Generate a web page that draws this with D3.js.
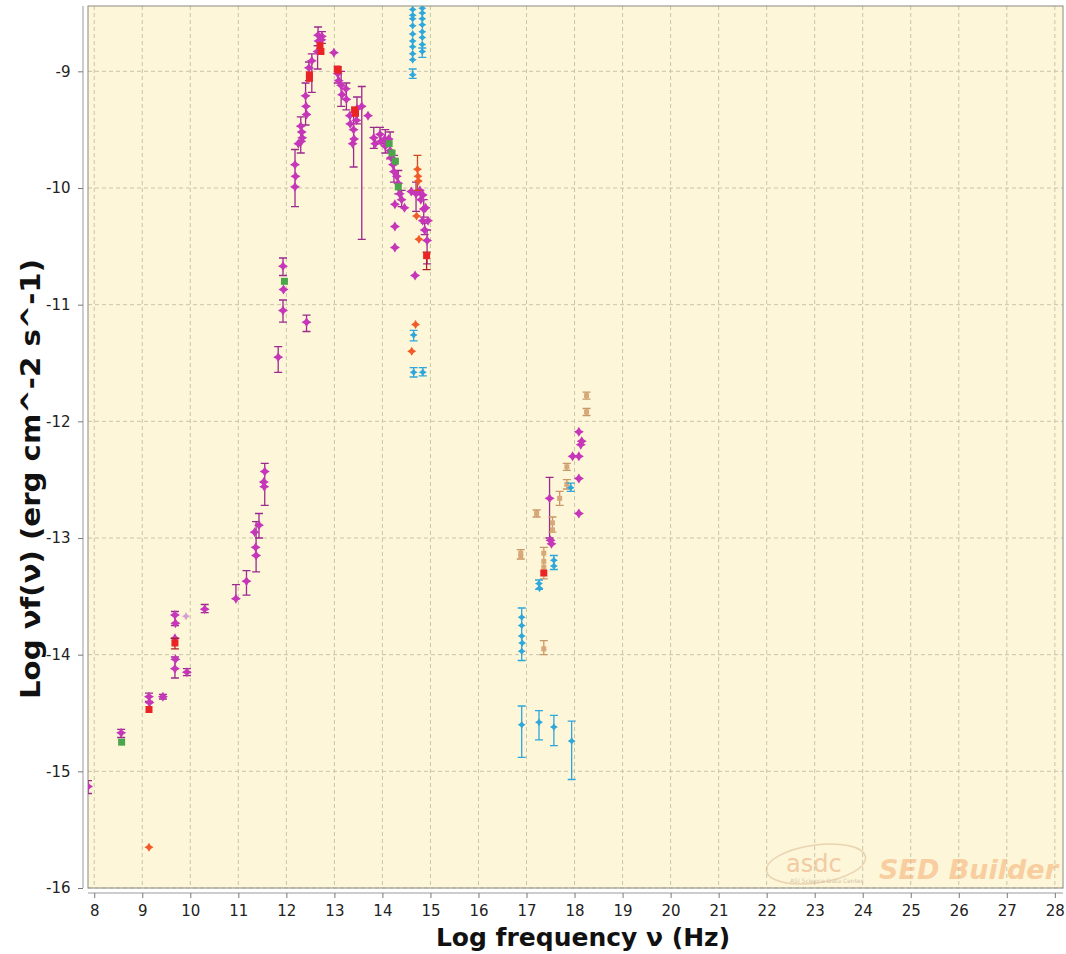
<!DOCTYPE html>
<html>
<head>
<meta charset="utf-8">
<script src="https://cdn.jsdelivr.net/npm/d3@7"></script>
<style>
  body { margin: 0; background: #fff; }
  svg { display: block; font-family: "DejaVu Sans", sans-serif; }
</style>
</head>
<body>
<svg id="chart" width="1066" height="954"></svg>
<script>
// each point: [logNu, logNuFnu, errLow, errHigh]
var magentaPts = [
  [7.87, -15.13, -15.19, -15.08], [8.56, -14.67, -14.71, -14.64],
  [9.14, -14.36, -14.40, -14.33], [9.15, -14.41], [9.43, -14.36, -14.38, -14.34],
  [9.68, -13.66, -13.75, -13.63], [9.69, -13.73], [9.68, -13.86],
  [9.69, -14.04], [9.68, -14.12, -14.2, -14.02], [9.93, -14.15, -14.18, -14.12],
  [10.3, -13.61, -13.64, -13.57], [10.95, -13.52, -13.52, -13.40],
  [11.17, -13.37, -13.49, -13.28], [11.34, -12.95], [11.36, -13.08],
  [11.37, -13.15, -13.29, -12.86], [11.43, -12.89, -13.0, -12.79],
  [11.55, -12.43, -12.72, -12.36], [11.53, -12.52], [11.54, -12.56],
  [11.83, -11.45, -11.58, -11.36], [11.93, -10.67, -10.75, -10.60],
  [11.94, -10.87], [11.93, -11.05, -11.15, -10.96], [12.42, -11.15, -11.23, -11.09],
  [12.18, -9.80, -10.16, -9.67], [12.19, -9.90], [12.18, -9.99], [12.25, -9.62],
  [12.30, -9.47, -9.70, -9.39], [12.32, -9.52], [12.33, -9.57], [12.31, -9.60],
  [12.40, -9.21, -9.46, -9.10], [12.41, -9.30], [12.42, -9.37],
  [12.47, -8.97, -9.08, -8.92], [12.53, -8.91, -9.18, -8.85],
  [12.66, -8.69, -8.78, -8.62], [12.67, -8.74], [12.65, -8.83, -8.98, -8.78],
  [12.74, -8.70, -8.76, -8.66], [12.73, -8.73], [12.99, -8.84],
  [13.07, -9.02, -9.10, -8.96], [13.09, -9.08], [13.14, -9.12, -9.30, -9.00],
  [13.16, -9.20], [13.24, -9.15], [13.25, -9.24, -9.33, -9.10],
  [13.32, -9.38], [13.33, -9.45], [13.40, -9.50, -9.82, -9.35], [13.41, -9.58],
  [13.38, -9.62], [13.47, -9.32, -9.45, -9.22], [13.46, -9.42],
  [13.57, -9.30, -10.44, -9.13], [13.70, -9.38], [13.82, -9.57, -9.66, -9.48],
  [13.85, -9.62], [13.95, -9.54, -9.62, -9.48], [13.97, -9.60], [14.05, -9.58],
  [14.06, -9.64, -9.70, -9.50], [14.13, -9.58], [14.16, -9.68, -9.75, -9.52],
  [14.18, -9.74], [14.22, -9.80], [14.24, -9.86, -9.95, -9.72],
  [14.26, -10.14], [14.26, -10.33], [14.26, -10.51], [14.30, -9.90],
  [14.33, -9.96, -10.05, -9.85], [14.36, -10.05], [14.40, -10.10, -10.16, -10.02],
  [14.46, -10.17], [14.60, -10.03], [14.68, -10.75], [14.70, -10.05, -10.20, -9.95],
  [14.78, -10.02], [14.80, -10.10], [14.84, -10.06], [14.86, -10.18, -10.25, -10.10],
  [14.84, -10.28], [14.90, -10.17], [14.88, -10.36, -10.40, -10.30],
  [14.93, -10.45, -10.65, -10.36], [14.95, -10.28],
  [17.48, -12.66, -13.0, -12.48], [17.50, -13.02], [17.52, -13.05],
  [17.96, -12.30], [18.09, -12.09], [18.15, -12.17], [18.13, -12.20],
  [18.09, -12.30], [18.09, -12.49], [18.09, -12.79]
];
var redPts = [
  [12.48, -9.03], [12.48, -9.06], [12.70, -8.78], [12.72, -8.83],
  [13.06, -8.98], [13.08, -8.99], [13.42, -9.33], [13.44, -9.36],
  [9.68, -13.90, -13.95, -13.86], [9.14, -14.47],
  [14.92, -10.58, -10.70, -10.55], [17.36, -13.30]
];
var orangePts = [
  [14.73, -9.84, -10.02, -9.72], [14.74, -9.90], [14.75, -9.94],
  [14.71, -10.24], [14.76, -10.44], [14.69, -11.17], [14.61, -11.40], [9.14, -15.65]
];
var greenPts = [
  [14.14, -9.62], [14.20, -9.70], [14.27, -9.77], [14.33, -9.99],
  [11.96, -10.80], [8.57, -14.75]
];
var cyanPts = [
  [14.63, -8.47], [14.63, -8.52], [14.63, -8.55], [14.63, -8.61], [14.63, -8.68],
  [14.63, -8.74], [14.63, -8.79], [14.63, -8.85], [14.63, -8.90], [14.63, -9.03, -9.06, -8.98],
  [14.83, -8.46], [14.83, -8.50], [14.83, -8.55], [14.83, -8.60], [14.83, -8.66],
  [14.83, -8.71], [14.83, -8.77], [14.83, -8.83, -8.88, -8.80],
  [14.65, -11.26, -11.31, -11.22], [14.65, -11.58, -11.62, -11.54],
  [14.84, -11.58, -11.61, -11.54], [17.92, -12.57, -12.60, -12.53],
  [17.57, -13.19, -13.27, -13.15], [17.57, -13.24], [17.26, -13.39, -13.44, -13.36],
  [17.27, -13.43], [16.90, -13.68, -14.05, -13.60], [16.90, -13.75], [16.90, -13.84],
  [16.91, -13.90], [16.90, -13.97], [16.90, -14.60, -14.88, -14.44],
  [17.26, -14.58, -14.73, -14.48], [17.57, -14.62, -14.78, -14.52],
  [17.94, -14.74, -15.07, -14.57]
];
var tanPts = [
  [18.25, -11.78, -11.81, -11.75], [18.25, -11.92, -11.95, -11.89],
  [17.84, -12.39, -12.42, -12.36], [17.84, -12.54, -12.58, -12.50],
  [17.69, -12.66, -12.72, -12.60], [17.21, -12.79, -12.82, -12.76],
  [17.54, -12.87, -12.95, -12.82], [17.54, -12.93], [16.88, -13.13, -13.18, -13.10],
  [16.88, -13.16], [17.36, -13.13, -13.35, -13.08], [17.36, -13.20], [17.36, -13.25],
  [17.36, -13.95, -14.00, -13.88]
];
var pinkPts = [[9.91, -13.67]];

var xTicks = d3.range(8, 29);
var yTicks = d3.range(-16, -8);

// 4-point star marker, size = outer radius in px
var symbolStar = {
  draw: function (ctx, r) {
    var k = r * 0.38;
    ctx.moveTo(0, -r);
    ctx.lineTo(k, -k); ctx.lineTo(r, 0); ctx.lineTo(k, k);
    ctx.lineTo(0, r); ctx.lineTo(-k, k); ctx.lineTo(-r, 0); ctx.lineTo(-k, -k);
    ctx.closePath();
  }
};
var symbolBox = {
  draw: function (ctx, r) { ctx.rect(-r, -r, 2 * r, 2 * r); }
};

function drawChart() {
  var svg = d3.select("#chart");
  var pl = 88, pr = 1063, pt = 6, pb = 888;

  var x = d3.scaleLinear().domain([7.87, 28.17]).range([pl, pr]);
  var y = d3.scaleLinear().domain([-16, -8.44]).range([pb, pt]);

  svg.append("defs").append("clipPath").attr("id", "clip")
    .append("rect").attr("x", pl).attr("y", pt)
    .attr("width", pr - pl).attr("height", pb - pt);

  svg.append("rect")
    .attr("x", pl).attr("y", pt)
    .attr("width", pr - pl).attr("height", pb - pt)
    .attr("fill", "#fdf6d9");

  // grid
  var grid = svg.append("g").attr("stroke", "#c9c5aa").attr("stroke-dasharray", "4,3");
  grid.selectAll(".vg").data(xTicks).enter().append("line")
    .attr("x1", d => x(d)).attr("x2", d => x(d))
    .attr("y1", pt).attr("y2", pb);
  grid.selectAll(".hg").data(yTicks).enter().append("line")
    .attr("x1", pl).attr("x2", pr)
    .attr("y1", d => y(d)).attr("y2", d => y(d));

  // watermark
  var wm = svg.append("g").attr("opacity", 0.5);
  wm.append("ellipse").attr("cx", 816).attr("cy", 864).attr("rx", 50).attr("ry", 19)
    .attr("transform", "rotate(-8,816,864)")
    .attr("fill", "none").attr("stroke", "#d9b48c").attr("stroke-width", 1.5);
  wm.append("text").attr("x", 786).attr("y", 872).attr("font-size", 24)
    .attr("fill", "#e8a070").text("asdc");
  wm.append("text").attr("x", 790).attr("y", 883).attr("font-size", 6)
    .attr("fill", "#b09070").text("ASI Science Data Center");
  wm.append("text").attr("x", 879).attr("y", 879).attr("font-size", 27)
    .attr("font-weight", "bold").attr("font-style", "italic")
    .attr("fill", "#f4a868").text("SED Builder");

  svg.append("rect")
    .attr("x", pl).attr("y", pt)
    .attr("width", pr - pl).attr("height", pb - pt)
    .attr("fill", "none").attr("stroke", "#8a8a80");

  // axes
  var xAxis = d3.axisBottom(x).tickValues(xTicks).tickSize(5).tickSizeOuter(0);
  var gx = svg.append("g").attr("transform", "translate(0," + (pb + 5) + ")").call(xAxis);
  var yAxis = d3.axisLeft(y).tickValues(yTicks).tickSize(5).tickSizeOuter(0)
    .tickFormat(d => String(d));
  var gy = svg.append("g").attr("transform", "translate(" + (pl - 5) + ",0)").call(yAxis);
  [gx, gy].forEach(function (g) {
    g.selectAll(".tick line").attr("stroke", "#777");
    g.selectAll(".tick text").attr("fill", "#222").attr("font-size", 15)
      .attr("font-family", "DejaVu Sans, sans-serif");
  });
  gx.select(".domain").attr("stroke", "#999").attr("d", "M" + pl + ",0H" + pr);
  gy.select(".domain").attr("stroke", "#999").attr("d", "M0," + pt + "V" + pb);
  gx.selectAll(".tick text").attr("dy", "1.0em");
  gy.selectAll(".tick text").attr("dx", "-0.3em");

  svg.append("text")
    .attr("x", 583).attr("y", 946)
    .attr("text-anchor", "middle").attr("font-size", 25).attr("font-weight", "bold")
    .attr("fill", "#111").text("Log frequency ν (Hz)");
  svg.append("text")
    .attr("transform", "translate(40,479) rotate(-90)")
    .attr("text-anchor", "middle").attr("font-size", 26).attr("font-weight", "bold")
    .attr("textLength", 440).attr("lengthAdjust", "spacingAndGlyphs")
    .attr("fill", "#111").text("Log νf(ν) (erg cm^-2 s^-1)");

  // data
  var plot = svg.append("g").attr("clip-path", "url(#clip)");

  function drawSeries(data, color, barColor, shape, r) {
    var g = plot.append("g");
    var withBars = data.filter(d => d[2] != null);
    g.selectAll(".bar").data(withBars).enter().append("path")
      .attr("fill", "none").attr("stroke", barColor).attr("stroke-width", 1.3)
      .attr("d", function (d) {
        var cx = x(d[0]), y1 = y(d[2]), y2 = y(d[3]);
        return "M" + cx + "," + y1 + "V" + y2 +
          "M" + (cx - 4) + "," + y1 + "H" + (cx + 4) +
          "M" + (cx - 4) + "," + y2 + "H" + (cx + 4);
      });
    g.selectAll(".pt").data(data).enter().append("path")
      .attr("d", d3.symbol().type(shape).size(r))
      .attr("transform", d => "translate(" + x(d[0]) + "," + y(d[1]) + ")")
      .attr("fill", color);
  }

  drawSeries(magentaPts, "#c536b8", "#9c2a8e", symbolStar, 5);
  drawSeries(tanPts, "#d9a878", "#c89868", symbolBox, 2.5);
  drawSeries(greenPts, "#4ba54a", "#3a8a3a", symbolBox, 3.5);
  drawSeries(redPts, "#ea2424", "#b02020", symbolBox, 3.5);
  drawSeries(orangePts, "#f25a28", "#d04a20", symbolStar, 4.5);
  drawSeries(cyanPts, "#2ea7dd", "#2ea7dd", symbolStar, 4);
  drawSeries(pinkPts, "#d8a0d0", "#d8a0d0", symbolStar, 4);
}

drawChart();
</script>
</body>
</html>
